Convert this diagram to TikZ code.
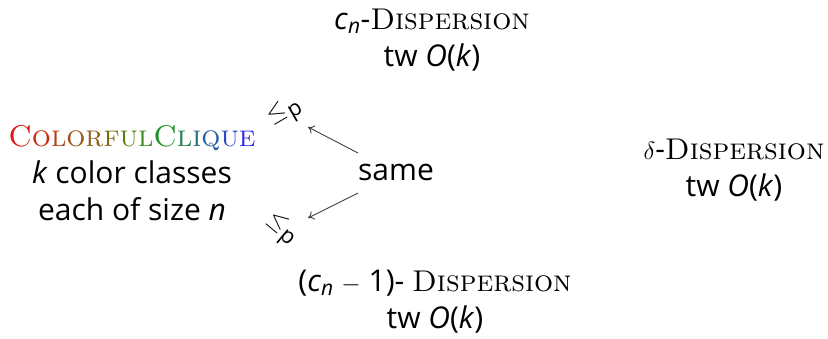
\documentclass[tikz,border=0pt]{standalone}
\usepackage{fontspec}
\setsansfont{Open Sans}
\usetikzlibrary{arrows.meta}
\definecolor{k1}{RGB}{220,25,20}
\definecolor{k2}{RGB}{200,45,20}
\definecolor{k3}{RGB}{180,65,25}
\definecolor{k4}{RGB}{155,85,25}
\definecolor{k5}{RGB}{140,95,20}
\definecolor{k6}{RGB}{120,110,15}
\definecolor{k7}{RGB}{95,125,20}
\definecolor{k8}{RGB}{60,140,30}
\definecolor{k9}{RGB}{30,145,40}
\definecolor{k10}{RGB}{30,130,80}
\definecolor{k11}{RGB}{35,115,120}
\definecolor{k12}{RGB}{40,95,165}
\definecolor{k13}{RGB}{45,70,205}
\definecolor{k14}{RGB}{50,45,235}
\newcommand{\kc}[2]{\textcolor{#1}{#2}}
\newcommand{\dispname}{\textrm{\textsc{Dispersion}}}
\begin{document}
\begin{tikzpicture}[x=1pt,y=-1pt,
  txt/.style={font=\sffamily\fontsize{30}{37}\selectfont, align=center, inner sep=0pt},
  arr/.style={-{To[length=6pt,width=9pt]}, draw=black!75, line width=0.9pt},
  lbl/.style={font=\sffamily\fontsize{30}{30}\selectfont, inner sep=0pt}]
\useasboundingbox (0,0) rectangle (828,338);
\node[txt] (cc) at (132,173) {\textrm{\textsc{\kc{k1}{C}\kc{k2}{o}\kc{k3}{l}\kc{k4}{o}\kc{k5}{r}\kc{k6}{f}\kc{k7}{u}\kc{k8}{l}\kc{k9}{C}\kc{k10}{l}\kc{k11}{i}\kc{k12}{q}\kc{k13}{u}\kc{k14}{e}}}\\ \textit{k} color classes\\ each of size \textit{n}};
\node[txt] (cnd) at (432,40) {\textit{c}\textsubscript{\textit{n}}-\dispname\\ tw \textit{O}(\textit{k})};
\node[txt] (cmd) at (435,302) {(\textit{c}\textsubscript{\textit{n}} $-$ 1)- \dispname\\ tw \textit{O}(\textit{k})};
\node[txt] (dd) at (734,170) {$\delta$-\dispname\\ tw \textit{O}(\textit{k})};
\node[txt] (same) at (396,172) {same};
\coordinate (a1s) at (358,153);
\coordinate (a1e) at (308,127);
\coordinate (a2s) at (358,193);
\coordinate (a2e) at (308,218);
\draw[arr] (a1s) -- (a1e);
\draw[arr] (a2s) -- (a2e);
\node[lbl, rotate=30] (le1) at (285,113) {$\leq$\kern1pt\raisebox{-0.35ex}{\fontsize{22}{22}\selectfont p}};
\node[lbl, rotate=-40] (le2) at (281,229) {$\leq$\kern1pt\raisebox{-0.35ex}{\fontsize{22}{22}\selectfont p}};
\end{tikzpicture}
\end{document}
